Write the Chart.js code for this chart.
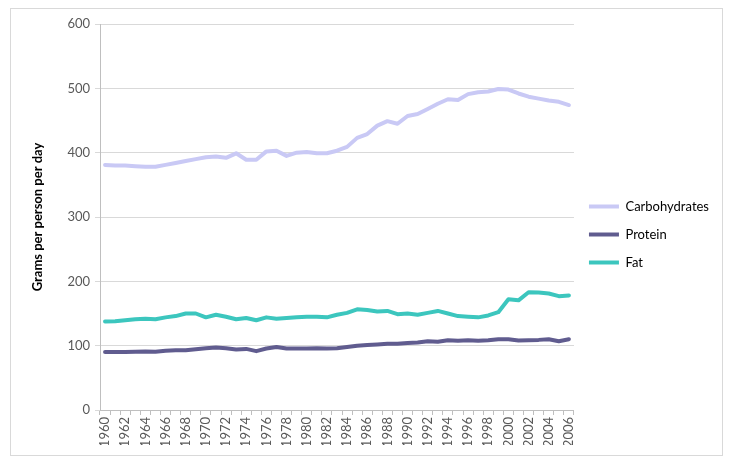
<!DOCTYPE html>
<html>
<head>
<meta charset="utf-8">
<script src="https://cdn.jsdelivr.net/npm/chart.js@4.4.1/dist/chart.umd.min.js"></script>
<style>
  html, body { margin: 0; padding: 0; background: #fff; }
  #wrap { position: relative; width: 735px; height: 470px; }
  #frame { position: absolute; left: 10px; top: 8px; width: 711px; height: 446px; border: 1px solid #d9d9d9; pointer-events: none; }
</style>
</head>
<body>
<div id="wrap">
  <canvas id="foodChart" width="735" height="470"></canvas>
  <div id="frame"></div>
</div>
<script>
// Years on the category axis
const years = [];
for (let y = 1960; y <= 2006; y++) years.push(String(y));

// Grams per person per day
const carbohydrates = [381, 380, 380, 379, 378, 378, 381, 384, 387, 390, 393, 394, 392, 399, 389, 389, 402, 403, 395, 400,
  401, 399, 399, 403, 409, 423, 429, 442, 449, 445, 457, 460, 468, 476, 483, 482, 491, 494, 495, 499,
  498, 492, 487, 484, 481, 479, 474];
const protein = [90, 90, 90, 90.5, 91, 90.5, 92, 93, 93, 94.5, 96, 97, 96, 94, 95, 91.5, 95.5, 98, 95.5, 95.5,
  95.5, 96, 95.5, 96, 98, 100, 101, 102, 103, 103, 104, 105, 107, 106, 108.5, 107.5, 108.5, 107.5, 108.5, 110,
  110, 108, 108.5, 109, 110, 107, 110];
const fat = [137.5, 138, 139.5, 141, 142, 141, 144, 146, 150, 150, 144, 148, 145, 141, 143, 139.5, 144, 142, 143, 144,
  145, 145, 144, 148, 151, 156.5, 155.5, 153, 154, 149, 150, 148, 151, 154, 150, 146, 145, 144, 147, 152,
  172, 170.5, 183, 182.5, 181, 177, 178];

const yTicks = [0, 100, 200, 300, 400, 500, 600];

const fontFamily = "Lato, 'Liberation Sans', sans-serif";
const textColor = '#595959';

const ctx = document.getElementById('foodChart').getContext('2d');
new Chart(ctx, {
  type: 'line',
  data: {
    labels: years,
    datasets: [
      { label: 'Carbohydrates', data: carbohydrates, borderColor: '#c9c9f5', backgroundColor: '#c9c9f5', borderWidth: 4 },
      { label: 'Protein', data: protein, borderColor: '#605c8f', backgroundColor: '#605c8f', borderWidth: 4 },
      { label: 'Fat', data: fat, borderColor: '#3cc6be', backgroundColor: '#3cc6be', borderWidth: 4 }
    ]
  },
  options: {
    responsive: false,
    animation: false,
    devicePixelRatio: 1,
    layout: { padding: { left: 20, right: 16, top: 24, bottom: 25 } },
    elements: {
      line: { tension: 0, borderCapStyle: 'round', borderJoinStyle: 'round' },
      point: { radius: 0, hoverRadius: 0 }
    },
    plugins: {
      tooltip: { enabled: false },
      legend: {
        position: 'right',
        labels: {
          font: { family: fontFamily, size: 13 },
          color: '#000',
          usePointStyle: true,
          pointStyle: 'line',
          pointStyleWidth: 30,
          boxWidth: 30,
          padding: 15
        }
      }
    },
    scales: {
      x: {
        offset: true,
        grid: { display: true, drawOnChartArea: false, offset: true, tickLength: 5, color: '#bfbfbf' },
        border: { color: '#bfbfbf' },
        ticks: {
          autoSkip: false,
          minRotation: 90,
          maxRotation: 90,
          padding: 2,
          color: textColor,
          font: { family: fontFamily, size: 13 },
          callback: function (val, i) { return i % 2 === 0 ? years[i] : ''; }
        },
        afterFit: function (scale) { scale.height = 35; }
      },
      y: {
        min: 0,
        max: 600,
        afterBuildTicks: function (scale) { scale.ticks = yTicks.map(v => ({ value: v })); },
        grid: { color: '#d9d9d9', tickLength: 5 },
        border: { color: '#bfbfbf' },
        ticks: {
          padding: 5,
          color: textColor,
          font: { family: fontFamily, size: 13 }
        },
        title: {
          display: true,
          text: 'Grams per person per day',
          color: '#000',
          font: { family: fontFamily, size: 13, weight: 'bold' },
          padding: { top: 10, bottom: 0 }
        },
        afterFit: function (scale) { scale.width = 80; }
      }
    }
  }
});
</script>
</body>
</html>
